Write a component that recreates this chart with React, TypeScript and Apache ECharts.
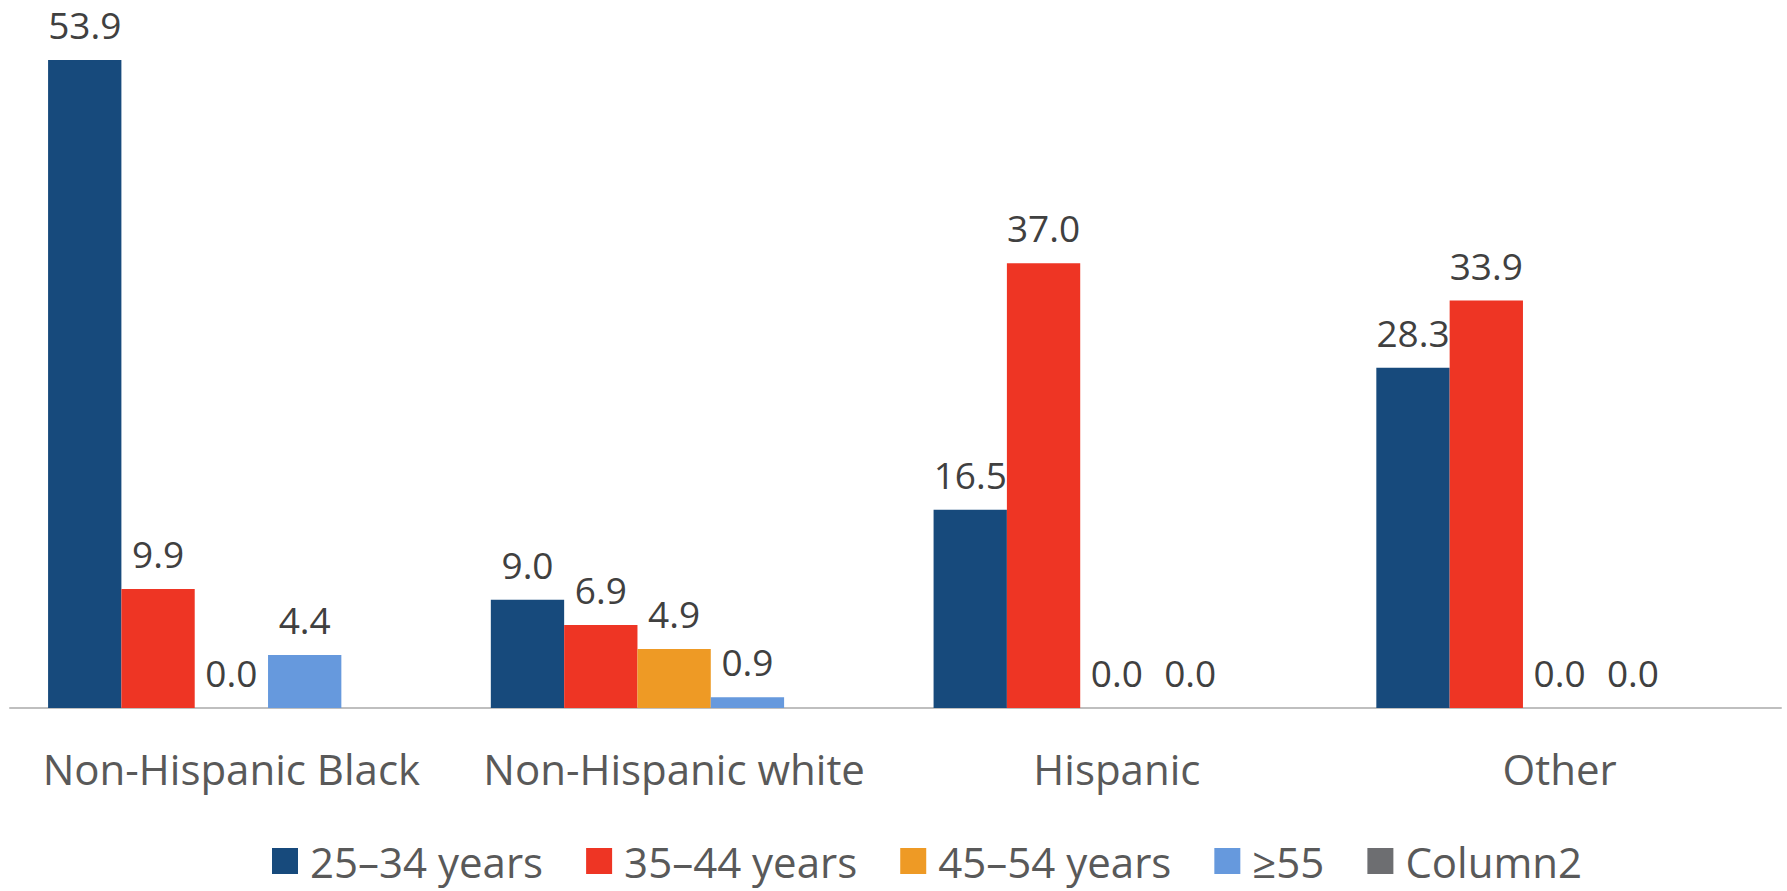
import React, { useEffect, useRef } from "react";
import * as echarts from "echarts";

const categories = ["Non-Hispanic Black", "Non-Hispanic white", "Hispanic", "Other"];
const seriesNames = ["25–34 years", "35–44 years", "45–54 years", "≥55", "Column2"];
const age25to34 = [53.9, 9.0, 16.5, 28.3];
const age35to44 = [9.9, 6.9, 37.0, 33.9];
const age45to54 = [0.0, 4.9, 0.0, 0.0];
const age55plus = [4.4, 0.9, 0.0, 0.0];
const column2: (number | null)[] = [null, null, null, null];
const colors = ["#174a7c", "#ee3524", "#ee9a25", "#6699dd", "#6d6e71"];

const FONT = "'Open Sans', 'Noto Sans', sans-serif";

export default function App() {
  const ref = useRef<HTMLDivElement>(null);

  useEffect(() => {
    if (!ref.current) return;
    const chart = echarts.init(ref.current, undefined, { renderer: "svg" });
    const allData = [age25to34, age35to44, age45to54, age55plus, column2];

    chart.setOption({
      animation: false,
      backgroundColor: "#ffffff",
      grid: { left: 10, right: 6, top: 0, bottom: 183, containLabel: false },
      legend: {
        left: 272,
        top: 839,
        padding: 0,
        itemWidth: 26,
        itemHeight: 26,
        itemGap: 43,
        icon: "rect",
        data: seriesNames,
        textStyle: {
          fontFamily: FONT,
          fontSize: 42,
          lineHeight: 44,
          color: "#595959",
          padding: [0, 0, 0, 7],
        },
      },
      xAxis: {
        type: "category",
        data: categories,
        axisLine: { show: true, lineStyle: { color: "#bfbfbf", width: 2 } },
        axisTick: { show: false },
        axisLabel: {
          interval: 0,
          fontFamily: FONT,
          fontSize: 42,
          color: "#595959",
          margin: 39,
        },
      },
      yAxis: {
        type: "value",
        min: 0,
        max: 58.9,
        show: false,
        splitLine: { show: false },
      },
      series: seriesNames.map((name, i) => ({
        name,
        type: "bar",
        data: allData[i],
        barGap: "0%",
        barCategoryGap: "17.2%",
        itemStyle: { color: colors[i] },
        label: {
          show: i < 4,
          position: "top",
          distance: 17,
          fontFamily: FONT,
          fontSize: 37,
          color: "#404040",
          formatter: (p: any) => (p.value == null ? "" : Number(p.value).toFixed(1)),
        },
      })),
    });

    return () => chart.dispose();
  }, []);

  return (
    <div
      ref={ref}
      style={{ position: "fixed", left: 0, top: 0, width: 1787, height: 891 }}
    />
  );
}
